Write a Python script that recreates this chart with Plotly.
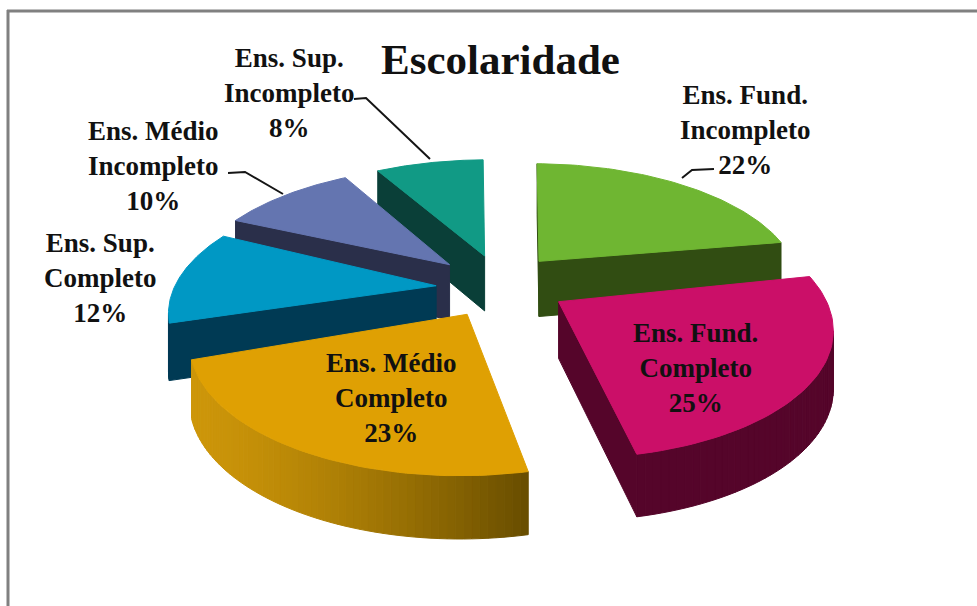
import numpy as np
import plotly.graph_objects as go

categories = ["Ens. Fund.<br>Incompleto", "Ens. Fund.<br>Completo", "Ens. Médio<br>Completo",
              "Ens. Sup.<br>Completo", "Ens. Médio<br>Incompleto", "Ens. Sup.<br>Incompleto"]
values = [22, 25, 23, 12, 10, 8]

top_colors = ["#6fb632", "#cb0f68", "#dfa003", "#0098c4", "#6475b0", "#119a85"]
side_colors = ["#314d12", "#55052a", None, "#003a54", "#2a2f4a", "#0a3f38"]
draw_order = [5, 4, 3, 0, 2, 1]

CX, CY = 495, 285
FX, FY = 262, 122
PERSP = 0.18
DEPTH = 56
EXPLODE = 0.23
ROT = 1
SLICE_ROT = [0, -2, -2, 0, -2, -2]
NUDGE = [(6, -3), (12, 1), (3, 4), (1, 3), (-2, -2), (5, -3)]


def project(u, v, nudge):
    w = 1 + PERSP * v
    return CX + FX * u / w + nudge[0], CY - FY * v / w + nudge[1], DEPTH / np.sqrt(w)


def poly(fig, xs, ys, color, name):
    fig.add_trace(go.Scatter(x=xs, y=ys, fill="toself", fillcolor=color, mode="lines",
                             line=dict(color=color, width=1), hoverinfo="name", name=name,
                             showlegend=False))


fig = go.Figure()
edges = ROT + np.cumsum([0] + values) * 3.6
names = [c.replace("<br>", " ") for c in categories]

for i in draw_order:
    a0, a1 = np.radians(edges[i] + SLICE_ROT[i]), np.radians(edges[i + 1] + SLICE_ROT[i])
    mid = (a0 + a1) / 2
    ex, ey = EXPLODE * np.sin(mid), EXPLODE * np.cos(mid)
    ang = np.linspace(a0, a1, 60)
    us = np.concatenate([[ex], ex + np.sin(ang)])
    vs = np.concatenate([[ey], ey + np.cos(ang)])
    x, y, d = project(us, vs, NUDGE[i])
    n = len(x)
    for j in range(n):
        k = (j + 1) % n
        dx = x[k] - x[j]
        # clockwise on screen: a wall is visible when its outward normal points down
        if -dx > 0.01:
            if side_colors[i] is None:
                t = (x[j] - x[1:].min()) / (x[1:].max() - x[1:].min())
                r, g, b = 205 - 100 * t ** 1.4, 150 - 72 * t ** 1.4, 10 * (1 - t)
                col = f"rgb({r:.0f},{g:.0f},{b:.0f})"
            else:
                col = side_colors[i]
            poly(fig, [x[j], x[k], x[k], x[j], x[j]],
                 [y[j], y[k], y[k] + d[k], y[j] + d[j], y[j]], col, names[i])
    poly(fig, list(x) + [x[0]], list(y) + [y[0]], top_colors[i], names[i])

# leader lines
leaders = [([682, 692, 714], [178, 170, 169]), ([354, 366, 430], [99, 98, 159]),
           ([228, 245, 283], [173, 172, 194])]
for lx, ly in leaders:
    fig.add_trace(go.Scatter(x=lx, y=ly, mode="lines", line=dict(color="#151515", width=2),
                             hoverinfo="skip", showlegend=False))

label_pos = [(745, 130), (695, 368), (391, 398), (100, 278), (153, 166), (289, 93)]
ann = []
for c, v, (lx, ly) in zip(categories, values, label_pos):
    ann.append(dict(x=lx, y=ly, text=f"<b>{c}<br>{v}%</b>", showarrow=False,
                    font=dict(family="Liberation Serif", size=27, color="#111111"),
                    xanchor="center", yanchor="middle"))
ann.append(dict(x=500, y=59, text="<b>Escolaridade</b>", showarrow=False,
                font=dict(family="Liberation Serif", size=43, color="#111111"),
                xanchor="center", yanchor="middle"))

fig.update_layout(
    width=977, height=606, margin=dict(l=0, r=0, t=0, b=0),
    paper_bgcolor="white", plot_bgcolor="white", showlegend=False,
    xaxis=dict(range=[0, 977], visible=False, fixedrange=True),
    yaxis=dict(range=[606, 0], visible=False, fixedrange=True),
    annotations=ann,
    shapes=[
        dict(type="line", x0=8, x1=8, y0=10, y1=606, line=dict(color="#808080", width=3)),
        dict(type="line", x0=7, x1=977, y0=11, y1=11, line=dict(color="#808080", width=3)),
    ],
)
fig.write_html("out.html", config={"displayModeBar": False},
               post_script="document.body.style.margin='0';document.body.style.overflow='hidden';")
